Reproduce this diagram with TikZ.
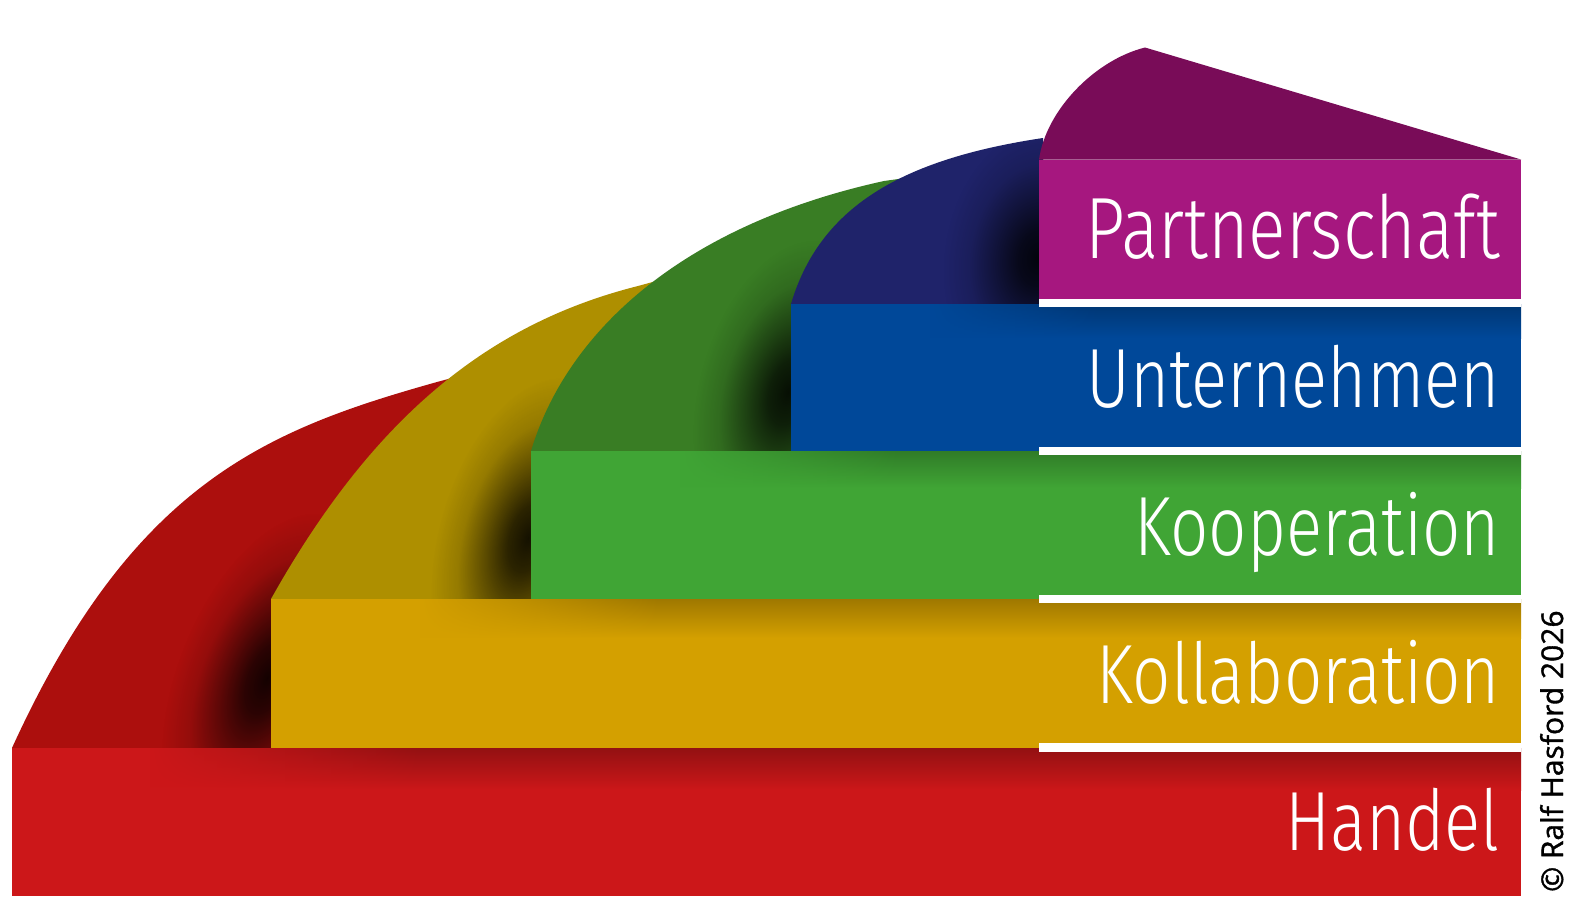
\documentclass[tikz,border=0pt]{standalone}
\usepackage{fontspec}
\usetikzlibrary{fadings}
\newfontfamily\labfont{Fira Sans Light}[FakeStretch=0.8]
\newfontfamily\copyfont{Open Sans}[FakeBold=1.2]
\definecolor{redF}{HTML}{CC1719}
\definecolor{redB}{HTML}{AC0F0D}
\definecolor{goldF}{HTML}{D4A000}
\definecolor{goldB}{HTML}{AE8F00}
\definecolor{greenF}{HTML}{40A535}
\definecolor{greenB}{HTML}{397D24}
\definecolor{blueF}{HTML}{004899}
\definecolor{blueB}{HTML}{1F236A}
\definecolor{magF}{HTML}{A6177F}
\definecolor{magB}{HTML}{790C58}
\pgfdeclareradialshading{blobsh}{\pgfpointorigin}{color(0bp)=(white); color(5bp)=(white!85!black); color(11bp)=(white!50!black); color(17bp)=(white!16!black); color(23.5bp)=(black); color(50bp)=(black)}
\pgfdeclarefading{blob}{\pgfuseshading{blobsh}}
\tikzfading[name=fadeR, left color=transparent!0, right color=transparent!100]
\begin{document}
\begin{tikzpicture}[x=1pt,y=-1pt,
  lab/.style={text=white, font=\labfont\fontsize{84}{84}\selectfont, inner sep=0pt, anchor=base east},
  shadowblob/.style={black, opacity=#1, path fading=blob},
  sep/.style={white}]
\useasboundingbox (0,0) rectangle (1576,905);
\fill[white] (0,0) rectangle (1576,905);

% ---- level 1: Handel (red)
\fill[redB] (12,748) .. controls (133,483) and (266,430) .. (437,382) -- (623,332) -- (623,748) -- cycle;
\begin{scope}
\clip (12,748) .. controls (133,483) and (266,430) .. (437,382) -- (623,332) -- (623,748) -- cycle;
\begin{scope}[transform canvas={shift={(267,678)}, rotate=-22}]
\fill[shadowblob=.88] (0,0) ellipse [x radius=95, y radius=185];
\end{scope}
\end{scope}
\fill[redF] (12,748) rectangle (1521,896);
\begin{scope}
\clip (12,748) rectangle (1521,896);
\shade[top color=redF!72!black, bottom color=redF] (150,748) rectangle (1521,790);
\fill[redF, path fading=fadeR] (149,747) rectangle (420,791);
\end{scope}

% ---- level 2: Kollaboration (gold)
\fill[goldB] (271,599) .. controls (372,419) and (487,324) .. (638,286) -- (894,216) -- (894,599) -- cycle;
\begin{scope}
\clip (271,599) .. controls (372,419) and (487,324) .. (638,286) -- (894,216) -- (894,599) -- cycle;
\begin{scope}[transform canvas={shift={(528,538)}, rotate=-16}]
\fill[shadowblob=.88] (0,0) ellipse [x radius=95, y radius=175];
\end{scope}
\end{scope}
\fill[goldF] (271,599) rectangle (1521,748);
\begin{scope}
\clip (271,599) rectangle (1521,748);
\shade[top color=goldF!75!black, bottom color=goldF] (420,599) rectangle (1521,638);
\fill[goldF, path fading=fadeR] (419,598) rectangle (660,639);
\end{scope}

% ---- level 3: Kooperation (green)
\fill[greenB] (531,451) .. controls (567,331) and (683,225) .. (884,181) -- (1043,159) -- (1043,451) -- cycle;
\begin{scope}
\clip (531,451) .. controls (567,331) and (683,225) .. (884,181) -- (1043,159) -- (1043,451) -- cycle;
\begin{scope}[transform canvas={shift={(788,392)}, rotate=-15}]
\fill[shadowblob=.88] (0,0) ellipse [x radius=95, y radius=165];
\end{scope}
\end{scope}
\fill[greenF] (531,451) rectangle (1521,599);
\begin{scope}
\clip (531,451) rectangle (1521,599);
\shade[top color=greenF!75!black, bottom color=greenF] (680,451) rectangle (1521,488);
\fill[greenF, path fading=fadeR] (679,450) rectangle (900,489);
\end{scope}

% ---- level 4: Unternehmen (blue)
\fill[blueB] (791,304) .. controls (821,202) and (910,158) .. (1043,138) -- (1043,304) -- cycle;
\begin{scope}
\clip (791,304) .. controls (821,202) and (910,158) .. (1043,138) -- (1043,304) -- cycle;
\begin{scope}[transform canvas={shift={(1038,258)}, rotate=-8}]
\fill[shadowblob=.88] (0,0) ellipse [x radius=100, y radius=140];
\end{scope}
\end{scope}
\fill[blueF] (791,304) rectangle (1521,451);
\begin{scope}
\clip (791,304) rectangle (1521,451);
\shade[top color=blueF!75!black, bottom color=blueF] (930,304) rectangle (1521,338);
\fill[blueF, path fading=fadeR] (929,303) rectangle (1100,339);
\end{scope}

% ---- level 5: Partnerschaft (magenta)
\fill[magB] (1039,159.5) .. controls (1046,110) and (1095,60) .. (1145,47.5) -- (1521,159.5) -- cycle;
\fill[magF] (1039,159.5) rectangle (1521,304);

% ---- white separators
\fill[sep] (1039,298.5) rectangle (1521,306.5);
\fill[sep] (1039,446.5) rectangle (1521,455);
\fill[sep] (1039,594.5) rectangle (1521,603);
\fill[sep] (1039,742.5) rectangle (1521,751.5);

% ---- labels
\node[lab, font=\labfont\fontsize{87}{87}\selectfont] (l5) at (1500,258) {Partnerschaft};
\node[lab] (l4) at (1500,407) {Unternehmen};
\node[lab] (l3) at (1500,555) {Kooperation};
\node[lab] (l2) at (1500,703) {Kollaboration};
\node[lab] (l1) at (1500,850) {Handel};

\node[rotate=90, anchor=base west, inner sep=0pt, font=\copyfont\fontsize{30}{30}\selectfont] (copy) at (1563,892) {© Ralf Hasford 2026};
\end{tikzpicture}
\end{document}
